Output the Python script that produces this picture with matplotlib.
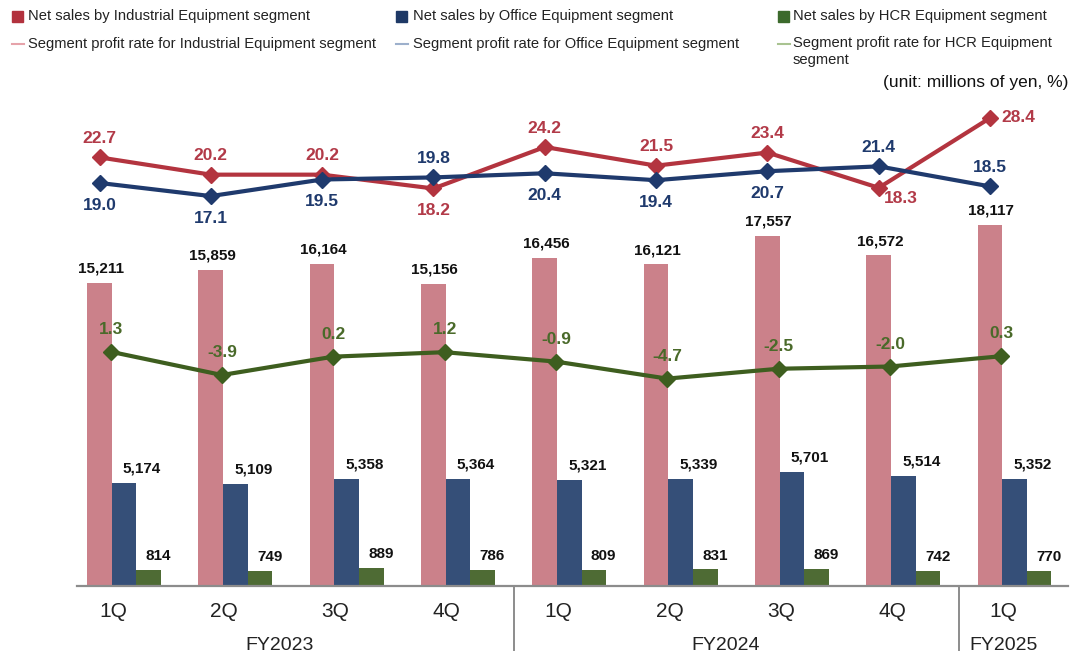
import matplotlib
matplotlib.use("Agg")
import matplotlib.pyplot as plt
from matplotlib.patches import Rectangle
from matplotlib.lines import Line2D
import numpy as np

plt.rcParams['font.family'] = ['Liberation Sans', 'DejaVu Sans']

quarters = ['1Q', '2Q', '3Q', '4Q', '1Q', '2Q', '3Q', '4Q', '1Q']
fiscal_years = ['FY2023', 'FY2024', 'FY2025']
fy_spans = [(0, 3), (4, 7), (8, 8)]

sales_industrial = [15211, 15859, 16164, 15156, 16456, 16121, 17557, 16572, 18117]
sales_office = [5174, 5109, 5358, 5364, 5321, 5339, 5701, 5514, 5352]
sales_hcr = [814, 749, 889, 786, 809, 831, 869, 742, 770]

rate_industrial = [22.7, 20.2, 20.2, 18.2, 24.2, 21.5, 23.4, 18.3, 28.4]
rate_office = [19.0, 17.1, 19.5, 19.8, 20.4, 19.4, 20.7, 21.4, 18.5]
rate_hcr = [1.3, -3.9, 0.2, 1.2, -0.9, -4.7, -2.5, -2.0, 0.3]

legend_items = [
    ('Net sales by Industrial Equipment segment', 'bar', '#B2323E'),
    ('Net sales by Office Equipment segment', 'bar', '#1E3966'),
    ('Net sales by HCR Equipment segment', 'bar', '#3C6A2C'),
    ('Segment profit rate for Industrial Equipment segment', 'line', '#E6A3AA'),
    ('Segment profit rate for Office Equipment segment', 'line', '#9DB0CC'),
    ('Segment profit rate for HCR Equipment\nsegment', 'line', '#A9C391'),
]

W, H = 1073, 658
fig = plt.figure(figsize=(W / 100, H / 100), dpi=100)


def fx(px):
    return px / W


def fy(py):
    return 1 - py / H


ax_left, ax_right, ax_top, ax_base = 76.7, 1068, 100, 586
ax = fig.add_axes([fx(ax_left), fy(ax_base), fx(ax_right - ax_left), (ax_base - ax_top) / H])
ax_rate = ax.twinx()
ax_hcr = ax.twinx()

x = np.arange(len(quarters))
bw = 0.221

ax.bar(x - bw, sales_industrial, bw, color='#CB818A', zorder=2)
ax.bar(x, sales_office, bw, color='#354F78', zorder=2)
ax.bar(x + bw, sales_hcr, bw, color='#4E6B34', zorder=2)

ax.set_xlim(-0.425, 8.48)
ax.set_ylim(0, 24360)
ax_rate.set_ylim(-39.3, 31.0)
ax_hcr.set_ylim(-51.0, 57.5)

lbl = dict(fontsize=11, fontweight='bold', color='#111111', ha='center', va='center',
           textcoords='offset points')
for i in x:
    ax.annotate(f'{sales_industrial[i]:,}', (x[i] - bw, sales_industrial[i]), xytext=(1, 10), **lbl)
    ax.annotate(f'{sales_office[i]:,}', (x[i], sales_office[i]), xytext=(13, 10.5), **lbl)
    ax.annotate(f'{sales_hcr[i]:,}', (x[i] + bw, sales_hcr[i]), xytext=(7, 10), **lbl)

# profit-rate lines
xr = x - 0.22
xh = x - 0.12
ax_rate.plot(xr, rate_industrial, color='#B3343F', lw=3, marker='D', ms=8, zorder=3)
ax_rate.plot(xr, rate_office, color='#1F3A6D', lw=3, marker='D', ms=8, zorder=3)
ax_hcr.plot(xh, rate_hcr, color='#3E5E1F', lw=3, marker='D', ms=8, zorder=3)

offsets = {'a': (0, 13.5, 'center'), 'b': (0, -16, 'center'),
           'r': (8, 0, 'left'), 'br': (4, -8, 'left')}
ind_pos = ['a', 'a', 'a', 'b', 'a', 'a', 'a', 'br', 'r']
off_pos = ['b', 'b', 'b', 'a', 'b', 'b', 'b', 'a', 'a']

rl = dict(fontsize=12.5, fontweight='bold', va='center', textcoords='offset points')
for i in x:
    dx, dy, ha = offsets[ind_pos[i]]
    ax_rate.annotate(f'{rate_industrial[i]:.1f}', (xr[i], rate_industrial[i]),
                     xytext=(dx, dy), ha=ha, color='#B23A48', **rl)
    dx, dy, ha = offsets[off_pos[i]]
    ax_rate.annotate(f'{rate_office[i]:.1f}', (xr[i], rate_office[i]),
                     xytext=(dx, dy), ha=ha, color='#1F3A6D', **rl)
    ax_hcr.annotate(f'{rate_hcr[i]:.1f}', (xh[i], rate_hcr[i]),
                    xytext=(0, 16), ha='center', color='#4A6A2A', **rl)

for a in (ax, ax_rate, ax_hcr):
    for s in ('top', 'right', 'left', 'bottom'):
        a.spines[s].set_visible(False)
    a.set_yticks([])
    a.tick_params(axis='both', length=0)
ax.set_xticks([])
ax.spines['bottom'].set_visible(True)
ax.spines['bottom'].set_color('#8C8C8C')
ax.spines['bottom'].set_linewidth(1.6)

# category axis: quarters, fiscal years and dividers
trans = ax.get_xaxis_transform()
hpx = ax_base - ax_top
for i, q in enumerate(quarters):
    ax.text(x[i] - 0.1, -25.7 / hpx, q, transform=trans, ha='center', va='center',
            fontsize=15, color='#222222')
for name, (a, b) in zip(fiscal_years, fy_spans):
    ax.text((a + b) / 2 - 0.1, -59 / hpx, name, transform=trans, ha='center', va='center',
            fontsize=14, color='#222222')
for xd in (3.5, 7.5):
    ax.plot([xd, xd], [0, -64 / hpx], transform=trans, color='#8C8C8C', lw=1.4, clip_on=False)

# legend
cols = [(12, 28), (396, 413), (778, 793)]
rows = [16, 44]
for k, (text, kind, color) in enumerate(legend_items):
    (mx, tx), ry = cols[k % 3], rows[k // 3]
    if kind == 'bar':
        fig.add_artist(Rectangle((fx(mx), fy(ry + 6)), fx(11), 11 / H, color=color,
                                 transform=fig.transFigure))
    else:
        fig.add_artist(Line2D([fx(mx), fx(mx + 12)], [fy(ry), fy(ry)], color=color, lw=1.5,
                              transform=fig.transFigure))
    multi = '\n' in text
    fig.text(fx(tx), fy(ry - 8 if multi else ry), text, fontsize=10.6, color='#222222',
             va='top' if multi else 'center', linespacing=1.3, transform=fig.transFigure)

fig.text(fx(1068), fy(82), '(unit: millions of yen, %)', fontsize=12.5, color='#111111',
         ha='right', va='center')

fig.savefig('out.png', dpi=100)
